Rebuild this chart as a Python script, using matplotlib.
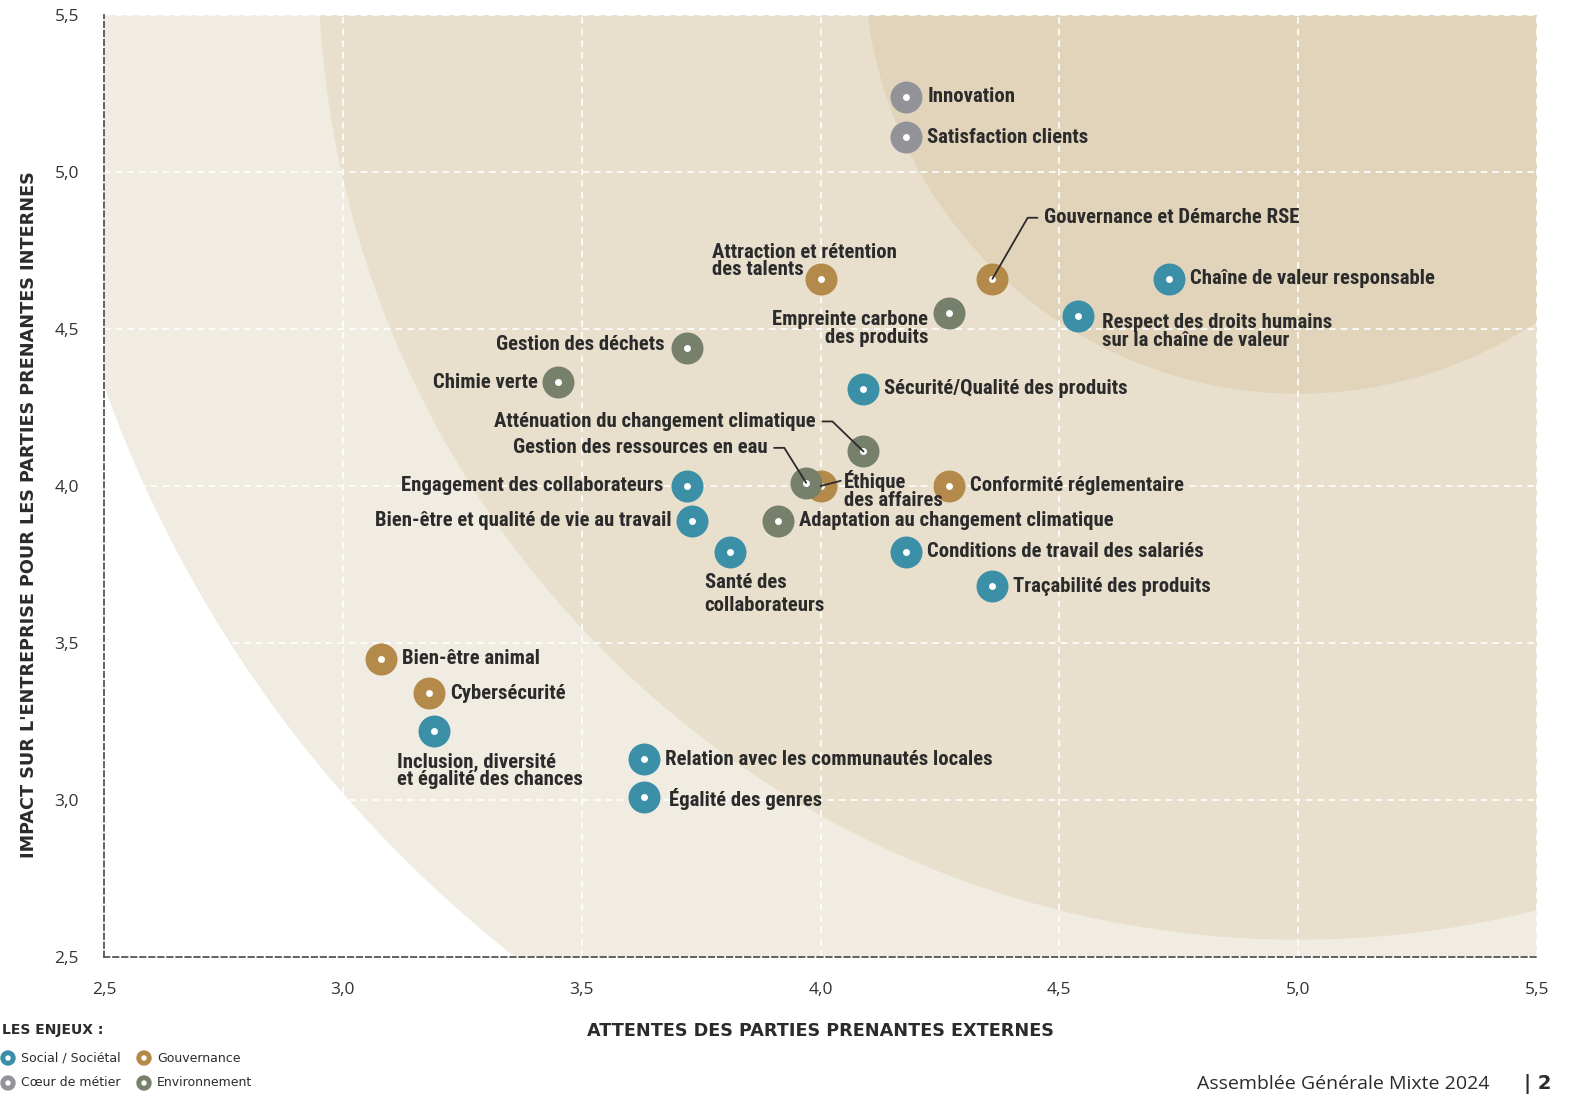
import matplotlib
matplotlib.use("Agg")
import matplotlib.pyplot as plt
from matplotlib.font_manager import FontProperties, fontManager
from matplotlib.patches import Ellipse
from matplotlib.ticker import FuncFormatter, MultipleLocator

# enjeux : (label, attentes externes, impact interne, categorie)
labels = [
    "Innovation", "Satisfaction clients", "Gouvernance et Démarche RSE",
    "Chaîne de valeur responsable",
    "Respect des droits humains\nsur la chaîne de valeur",
    "Attraction et rétention\ndes talents", "Empreinte carbone\ndes produits",
    "Gestion des déchets", "Chimie verte", "Sécurité/Qualité des produits",
    "Atténuation du changement climatique", "Éthique\ndes affaires",
    "Gestion des ressources en eau", "Conformité réglementaire",
    "Engagement des collaborateurs", "Bien-être et qualité de vie au travail",
    "Adaptation au changement climatique", "Santé des\ncollaborateurs",
    "Conditions de travail des salariés", "Traçabilité des produits",
    "Bien-être animal", "Cybersécurité",
    "Inclusion, diversité\net égalité des chances",
    "Relation avec les communautés locales", "Égalité des genres",
]
x_ext = [4.18, 4.18, 4.36, 4.73, 4.54, 4.00, 4.27, 3.72, 3.45, 4.09,
         4.09, 4.00, 3.97, 4.27, 3.72, 3.73, 3.91, 3.81, 4.18, 4.36,
         3.08, 3.18, 3.19, 3.63, 3.63]
y_int = [5.24, 5.11, 4.66, 4.66, 4.54, 4.66, 4.55, 4.44, 4.33, 4.31,
         4.11, 4.00, 4.01, 4.00, 4.00, 3.89, 3.89, 3.79, 3.79, 3.68,
         3.45, 3.34, 3.22, 3.13, 3.01]
cats = ["coeur", "coeur", "gouv", "social", "social", "gouv", "env", "env",
        "env", "social", "env", "gouv", "env", "gouv", "social", "social",
        "env", "social", "social", "social", "gouv", "gouv", "social",
        "social", "social"]

cat_names = {"social": "Social / Sociétal", "gouv": "Gouvernance",
             "coeur": "Cœur de métier", "env": "Environnement"}
colors = {"social": "#3b8fa7", "gouv": "#b38a4a", "coeur": "#929398",
          "env": "#76806a"}

# label placement (offset pixels from marker, ha, leader style)
place = {
    "Gouvernance et Démarche RSE": (52, 61, "left", "angle", 60),
    "Respect des droits humains\nsur la chaîne de valeur": (24, -15, "left", None, 0),
    "Attraction et rétention\ndes talents": (-108, 18, "left", None, 0),
    "Empreinte carbone\ndes produits": (-21, -15, "right", None, 0),
    "Gestion des déchets": (-22, 3, "right", None, 0),
    "Chimie verte": (-20, 0, "right", None, 0),
    "Atténuation du changement climatique": (-48, 30, "right", "angle", -44),
    "Gestion des ressources en eau": (-39, 35, "right", "angle", -58),
    "Éthique\ndes affaires": (23, -4, "left", "line", 0),
    "Engagement des collaborateurs": (-23, 0, "right", None, 0),
    "Bien-être et qualité de vie au travail": (-20, 0, "right", None, 0),
    "Santé des\ncollaborateurs": (-25, -42, "left", None, 0),
    "Inclusion, diversité\net égalité des chances": (-37, -40, "left", None, 0),
    "Égalité des genres": (25, -2, "left", None, 0),
}

# narrow bold face for the point labels
prio = ["Liberation Sans Narrow", "Roboto Condensed", "Open Sans Condensed",
        "Noto Sans", "Open Sans", "Roboto", "DejaVu Sans"]
found = []
for f in fontManager.ttflist:
    narrow = ("ondensed" in f.name or "Narrow" in f.name
              or f.stretch in ("condensed", "semi-condensed"))
    if narrow and f.weight in ("bold", "semibold", "demibold", 600, 700):
        rank = next((i for i, p in enumerate(prio) if f.name.startswith(p)), 99)
        found.append((rank, f.fname))
found.sort()
if found:
    lab_fp = FontProperties(fname=found[0][1], size=10)
else:
    lab_fp = FontProperties(family=["Open Sans", "DejaVu Sans"], weight="bold",
                            size=10)

W, H = 1572, 1095
fig = plt.figure(figsize=(W / 100, H / 100), dpi=100)

# scale label size so "Chaîne de valeur responsable" is about 245 px wide
probe = fig.text(0, 0, "Chaîne de valeur responsable", fontproperties=lab_fp)
wpx = probe.get_window_extent(fig.canvas.get_renderer()).width
probe.remove()
lab_fp.set_size(min(15, max(11.5, 10 * 245 / wpx)))

ax = fig.add_axes([104 / W, 1 - 957 / H, (1537 - 104) / W, (957 - 15) / H])
ax.set_xlim(2.5, 5.5)
ax.set_ylim(2.5, 5.5)
ax.set_facecolor("white")

# concentric zones
sx, sy = 477.7, 314.0
for r, c in [(1268, "#f1ece2"), (980, "#e8dfcd"), (434, "#e1d4bb")]:
    ax.add_patch(Ellipse((5.0, 5.676), 2 * r / sx, 2 * r / sy, color=c,
                         lw=0, zorder=0.1))

ax.xaxis.set_major_locator(MultipleLocator(0.5))
ax.yaxis.set_major_locator(MultipleLocator(0.5))
fmt = FuncFormatter(lambda v, p: f"{v:.1f}".replace(".", ","))
ax.xaxis.set_major_formatter(fmt)
ax.yaxis.set_major_formatter(fmt)
ax.grid(True, color="white", lw=1.2, ls=(0, (4, 3)), zorder=0.5)
ax.set_axisbelow(True)
for s in ["top", "right"]:
    ax.spines[s].set_visible(False)
for s in ["left", "bottom"]:
    ax.spines[s].set_color("#555555")
    ax.spines[s].set_linestyle((0, (3, 2)))
    ax.spines[s].set_linewidth(1.3)
ax.tick_params(length=0, labelsize=12.5, labelcolor="#333333")
ax.tick_params(axis="x", pad=18)
ax.tick_params(axis="y", pad=18)
for t in ax.get_xticklabels() + ax.get_yticklabels():
    t.set_family(["Open Sans", "DejaVu Sans"])

ax.set_xlabel("ATTENTES DES PARTIES PRENANTES EXTERNES", fontsize=12.7,
              fontweight="bold", color="#2b2b2b", labelpad=17,
              family="DejaVu Sans")
ax.set_ylabel("IMPACT SUR L'ENTREPRISE POUR LES PARTIES PRENANTES INTERNES",
              fontsize=12.7, fontweight="bold", color="#2b2b2b",
              family="DejaVu Sans")
ax.yaxis.set_label_coords(-0.046, 0.47)

for i, lab in enumerate(labels):
    c = colors[cats[i]]
    z = 5 if lab != "Éthique\ndes affaires" else 3
    ax.scatter(x_ext[i], y_int[i], s=530, color=c, lw=0, zorder=z)
    ax.scatter(x_ext[i], y_int[i], s=25, color="white", lw=0, zorder=z + 0.1)
    dx, dy, ha, lead, ang = place.get(lab, (21, 0, "left", None, 0))
    kw = {}
    if lead == "angle":
        kw["arrowprops"] = dict(arrowstyle="-", color="#2b2b2b", lw=1.3,
                                shrinkA=3, shrinkB=0,
                                relpos=(0, 0.5) if ha == "left" else (1, 0.5),
                                connectionstyle=f"angle,angleA=0,angleB={ang},rad=0")
    elif lead == "line":
        kw["arrowprops"] = dict(arrowstyle="-", color="#2b2b2b", lw=1.3,
                                shrinkA=0, shrinkB=0, relpos=(0, 0.75))
    ls = 1.3 if lab.startswith("Santé") else 0.9
    ax.annotate(lab, (x_ext[i], y_int[i]), xytext=(dx, dy),
                textcoords="offset pixels", ha=ha, va="center",
                multialignment=ha, fontproperties=lab_fp, color="#2b2b2b",
                linespacing=ls, zorder=6, **kw)

# legend
fig.text(2 / W, 1 - 1030 / H, "LES ENJEUX :", fontsize=10, fontweight="bold",
         color="#2b2b2b", va="center", family="DejaVu Sans")
leg_pos = {"social": (8, 1058), "gouv": (144, 1058), "coeur": (8, 1083),
           "env": (144, 1083)}
for k, (px, py) in leg_pos.items():
    fig.patches.append(Ellipse((px / W, 1 - py / H), 14 / W, 14 / H,
                               transform=fig.transFigure, color=colors[k]))
    fig.patches.append(Ellipse((px / W, 1 - py / H), 4 / W, 4 / H,
                               transform=fig.transFigure, color="white"))
    fig.text((px + 13) / W, 1 - py / H, cat_names[k], fontsize=9,
             color="#2b2b2b", va="center", family="DejaVu Sans")

# footer
fig.text(1197 / W, 1 - 1089 / H, "Assemblée Générale Mixte 2024", fontsize=14,
         color="#2b2b2b", va="baseline", family=["Open Sans", "DejaVu Sans"])
fig.text(1524 / W, 1 - 1089 / H, "| 2", fontsize=14, fontweight="bold",
         color="#2b2b2b", va="baseline", family="DejaVu Sans")

fig.savefig("out.png", dpi=100)
